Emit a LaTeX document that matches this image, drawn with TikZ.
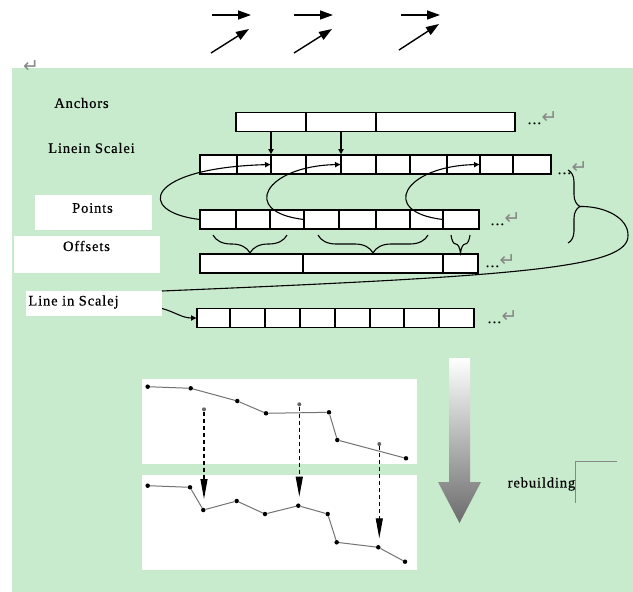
\documentclass[tikz,border=0pt]{standalone}
\usepackage{fontspec}
\setmainfont[LetterSpace=6, FakeBold=0.5]{Liberation Serif}
\newfontfamily\symfont{DejaVu Sans}
\usetikzlibrary{positioning, arrows.meta, decorations.pathreplacing}
\definecolor{sheetgreen}{RGB}{199,235,204}
\definecolor{markgray}{RGB}{135,135,135}
\newcommand{\retmark}{\raisebox{1pt}{\symfont\fontsize{19}{19}\selectfont\color{markgray}↵}}

\begin{document}
\begin{tikzpicture}[x=1pt, y=-1pt,
		every node/.style={font=\fontsize{14.5}{16}\selectfont},
		cell/.style={draw, fill=white, line width=1.2pt, minimum height=19pt, inner sep=0pt, outer sep=0pt},
		panel/.style={fill=white, inner sep=0pt, outer sep=0pt},
		more/.style={anchor=base west, inner sep=0pt},
		dot/.style={circle, fill=black, inner sep=0pt, minimum size=4.5pt},
		ghost/.style={circle, fill=black!60, inner sep=0pt, minimum size=4pt},
		trace/.style={draw=black!55, line width=1pt},
		link/.style={line width=1.1pt, -{Latex[length=6pt,width=6pt]}},
		drop/.style={line width=1.1pt, dash pattern=on 4pt off 3pt, -{Triangle[length=20pt,width=7pt]}},
		curly/.style={decorate, decoration={brace, amplitude=18pt}, line width=1.1pt},
		bigarrow/.style={line width=1.4pt, -{Triangle[length=13pt,width=9pt]}}]
			\useasboundingbox (0,0) rectangle (633,592);
			\fill[sheetgreen] (12,68) rectangle (633,592);
			% Arrows Top
			\draw[bigarrow] (212,15) -- (251,15);
			\draw[bigarrow] (211,53) -- (249,29);
			\draw[bigarrow] (294,15) -- (333,15);
			\draw[bigarrow] (294,53) -- (332,29);
			\draw[bigarrow] (401,15) -- (440,15);
			\draw[bigarrow] (399,50) -- (439,24);
			\node[more] (topret) at (23,73) {\retmark};
			% Labels
			\node (anlbl) at (81.5,103) {Anchors};
			\node (silbl) at (91.5,148) {Linein Scalei};
			\node[panel, minimum width=117pt, minimum height=35pt] (ptbox) at (93.3,212.5) {};
			\node (ptlbl) at (92.5,208) {Points};
			\node[panel, minimum width=146pt, minimum height=37pt] (ofbox) at (87,254.4) {};
			\node (oflbl) at (86.5,246) {Offsets};
			\node[panel, minimum width=136pt, minimum height=25pt] (sjlbl) at (94,303.5) {};
			\node (sjtxt) at (73.5,302) {Line in Scalej};
			% Anchors
			\node[cell, minimum width=70pt, anchor=west] (an1) at (236,122) {};
			\node[cell, minimum width=70pt, right=0pt of an1] (an2) {};
			\node[cell, minimum width=139pt, right=0pt of an2] (an3) {};
			\node[more] (anmore) at (527,124) {…\retmark};
			% Line in Scalei
			\node[cell, minimum width=37pt, anchor=west] (si1) at (200,164.5) {};
			\node[cell, minimum width=34pt, right=0pt of si1] (si2) {};
			\node[cell, minimum width=35pt, right=0pt of si2] (si3) {};
			\node[cell, minimum width=35pt, right=0pt of si3] (si4) {};
			\node[cell, minimum width=35pt, right=0pt of si4] (si5) {};
			\node[cell, minimum width=34pt, right=0pt of si5] (si6) {};
			\node[cell, minimum width=37pt, right=0pt of si6] (si7) {};
			\node[cell, minimum width=33pt, right=0pt of si7] (si8) {};
			\node[cell, minimum width=33pt, right=0pt of si8] (si9) {};
			\node[cell, minimum width=38pt, right=0pt of si9] (si10) {};
			\node[more] (simore) at (557,174) {…\retmark};
			\draw[link] (an1.south) -- (si3.north west);
			\draw[link] (an2.south) -- (si5.north west);
			% Points
			\node[cell, minimum width=36pt, anchor=west] (pt1) at (200,219.5) {};
			\node[cell, minimum width=34pt, right=0pt of pt1] (pt2) {};
			\node[cell, minimum width=34pt, right=0pt of pt2] (pt3) {};
			\node[cell, minimum width=35pt, right=0pt of pt3] (pt4) {};
			\node[cell, minimum width=37pt, right=0pt of pt4] (pt5) {};
			\node[cell, minimum width=34pt, right=0pt of pt5] (pt6) {};
			\node[cell, minimum width=33pt, right=0pt of pt6] (pt7) {};
			\node[cell, minimum width=36pt, right=0pt of pt7] (pt8) {};
			\node[more] (ptmore) at (490,225) {…\retmark};
			\draw[link] (pt1.west) .. controls (135,212) and (145,168) .. (si3.west);
			\draw[link] (pt4.west) .. controls (239,212) and (265,166) .. (si5.west);
			\draw[link] (pt8.west) .. controls (378,212) and (404,166) .. (si9.west);
			% Offsets
			\node[cell, minimum width=103pt, anchor=west] (of1) at (200,263.5) {};
			\node[cell, minimum width=140pt, right=0pt of of1] (of2) {};
			\node[cell, minimum width=35pt, right=0pt of of2] (of3) {};
			\node[more] (ofmore) at (485,267) {…\retmark};
			\draw[curly] (287,235) -- (213,235);
			\draw[curly] (428,235) -- (318,235);
			\draw[curly] (470,235) -- (451,235);
			% Line in Scalej
			\node[cell, minimum width=33pt, anchor=west] (sj1) at (197,318) {};
			\node[cell, minimum width=35pt, right=0pt of sj1] (sj2) {};
			\node[cell, minimum width=35pt, right=0pt of sj2] (sj3) {};
			\node[cell, minimum width=35pt, right=0pt of sj3] (sj4) {};
			\node[cell, minimum width=35pt, right=0pt of sj4] (sj5) {};
			\node[cell, minimum width=34pt, right=0pt of sj5] (sj6) {};
			\node[cell, minimum width=35pt, right=0pt of sj6] (sj7) {};
			\node[cell, minimum width=35pt, right=0pt of sj7] (sj8) {};
			\node[more] (sjmore) at (487,323) {…\retmark};
			% Brace right
			\draw[curly, decoration={amplitude=12pt}] (568,170) -- (568,243);
			\coordinate (btip) at (580,206.5);
			\draw[line width=1.1pt] (btip) .. controls (605,206) and (628,218) .. (628,235)
				.. controls (630,268) and (520,276) .. (sjlbl.north east);
			\draw[link] ([yshift=-5pt]sjlbl.east) .. controls (175,312) and (182,318) .. (sj1.west);
			% Charts
			\node[panel, minimum width=275pt, minimum height=85pt, anchor=north west] (topchart) at (141.7,379.3) {};
			\node[panel, minimum width=275pt, minimum height=95pt, anchor=north west] (botchart) at (141.7,475) {};
			\node[dot] (t1) at (147.7,386.7) {};
			\node[dot] (t2) at (190.7,388.3) {};
			\node[dot] (t3) at (237.3,401) {};
			\node[dot] (t4) at (266,413.3) {};
			\node[dot] (t5) at (329,412.3) {};
			\node[dot] (t6) at (337.3,440) {};
			\node[dot] (t7) at (406,458.3) {};
			\draw[trace] (t1) -- (t2) -- (t3) -- (t4) -- (t5) -- (t6) -- (t7);
			\node[ghost] (g1) at (204,409.3) {};
			\node[ghost] (g2) at (299.3,404.3) {};
			\node[ghost] (g3) at (379.3,444) {};
			\node[dot] (b1) at (147.7,485.7) {};
			\node[dot] (b2) at (190,487.3) {};
			\node[dot] (b3) at (203.3,510) {};
			\node[dot] (b4) at (236.7,501) {};
			\node[dot] (b5) at (265,514) {};
			\node[dot] (b6) at (298.3,505.7) {};
			\node[dot] (b7) at (327.7,514) {};
			\node[dot] (b8) at (336.7,542.3) {};
			\node[dot] (b9) at (378.3,547.3) {};
			\node[dot] (b10) at (405,561.7) {};
			\draw[trace] (b1) -- (b2) -- (b3) -- (b4) -- (b5) -- (b6) -- (b7) -- (b8) -- (b9) -- (b10);
			\draw[drop, shorten >=11pt] (g1) -- (g1 |- b3);
			\draw[drop, shorten >=9pt] (g2) -- (g2 |- b6);
			\draw[drop, shorten >=9pt] (g3) -- (g3 |- b9);
			% Rebuilding
			\shade[top color=white, bottom color=black!58] (449,358) -- (470,358) -- (470,482) -- (481,482)
				-- (459.5,523) -- (438,482) -- (449,482) -- cycle;
			\node (rblbl) at (541.5,484) {rebuilding};
			\draw[markgray, line width=0.8pt] (575,503) -- (575,461) -- (617,461);
		\end{tikzpicture}
\end{document}
